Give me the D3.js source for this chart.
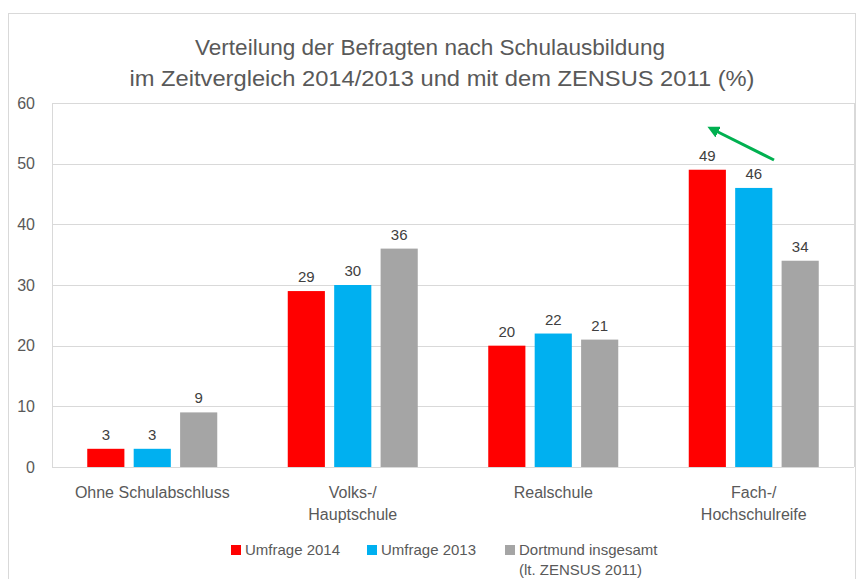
<!DOCTYPE html>
<html>
<head>
<meta charset="utf-8">
<script src="https://cdn.jsdelivr.net/npm/d3@7"></script>
<style>
  body { margin: 0; background: #fff; }
  text { font-family: "Liberation Sans", Arial, sans-serif; }
</style>
</head>
<body>
<div id="chart"></div>
<script>
var categories = ["Ohne Schulabschluss", "Volks-/\nHauptschule", "Realschule", "Fach-/\nHochschulreife"];
var series = ["Umfrage 2014", "Umfrage 2013", "Dortmund insgesamt\n(lt. ZENSUS 2011)"];
var umfrage2014 = [3, 29, 20, 49];
var umfrage2013 = [3, 30, 22, 46];
var zensus2011 = [9, 36, 21, 34];
var yTicks = [0, 10, 20, 30, 40, 50, 60];

var values = [umfrage2014, umfrage2013, zensus2011];
var colors = ["#FF0000", "#00B0F0", "#A5A5A5"];

var width = 861, height = 579;
var plotLeft = 52, plotRight = 854, plotTop = 103, plotBottom = 467;

var svg = d3.select("#chart").append("svg")
    .attr("width", width)
    .attr("height", height);

// outer chart border
svg.append("rect")
    .attr("x", 8.5).attr("y", 13.5)
    .attr("width", 847).attr("height", 620)
    .attr("fill", "none")
    .attr("stroke", "#d9d9d9");

var x0 = d3.scaleBand()
    .domain(d3.range(categories.length))
    .range([plotLeft, plotRight]);

var x1 = d3.scaleBand()
    .domain(d3.range(series.length))
    .range([0, 130])
    .paddingInner(0.2);

var y = d3.scaleLinear()
    .domain([0, 60])
    .range([plotBottom, plotTop]);

// gridlines
svg.append("g").selectAll("line")
    .data(yTicks)
    .enter().append("line")
    .attr("x1", plotLeft).attr("x2", plotRight)
    .attr("y1", function(d) { return Math.round(y(d)) + 0.5; })
    .attr("y2", function(d) { return Math.round(y(d)) + 0.5; })
    .attr("stroke", "#d9d9d9");

// plot box sides
svg.append("line")
    .attr("x1", plotLeft + 0.5).attr("x2", plotLeft + 0.5)
    .attr("y1", plotTop).attr("y2", plotBottom)
    .attr("stroke", "#d9d9d9");
svg.append("line")
    .attr("x1", plotRight + 0.5).attr("x2", plotRight + 0.5)
    .attr("y1", plotTop).attr("y2", plotBottom)
    .attr("stroke", "#d9d9d9");

// y axis labels
var yAxis = d3.axisLeft(y).tickValues(yTicks).tickSize(0).tickPadding(17);
var gy = svg.append("g")
    .attr("transform", "translate(" + plotLeft + ",0)")
    .call(yAxis);
gy.select(".domain").remove();
gy.selectAll("text")
    .attr("font-size", 16)
    .attr("fill", "#595959")
    .style("font-family", "Liberation Sans, sans-serif");

// bars
var groups = svg.append("g").selectAll("g")
    .data(categories)
    .enter().append("g")
    .attr("transform", function(d, i) {
      return "translate(" + (x0(i) + (x0.bandwidth() - 130) / 2) + ",0)";
    });

groups.selectAll("rect")
    .data(function(d, i) { return values.map(function(v, s) { return {s: s, v: v[i]}; }); })
    .enter().append("rect")
    .attr("x", function(d) { return x1(d.s); })
    .attr("y", function(d) { return y(d.v); })
    .attr("width", x1.bandwidth())
    .attr("height", function(d) { return y(0) - y(d.v); })
    .attr("fill", function(d) { return colors[d.s]; });

groups.selectAll("text.val")
    .data(function(d, i) { return values.map(function(v, s) { return {s: s, v: v[i]}; }); })
    .enter().append("text")
    .attr("class", "val")
    .attr("x", function(d) { return x1(d.s) + x1.bandwidth() / 2; })
    .attr("y", function(d) { return y(d.v) - 9; })
    .attr("text-anchor", "middle")
    .attr("font-size", 15)
    .attr("fill", "#404040")
    .text(function(d) { return d.v; });

// category labels
svg.append("g").selectAll("text")
    .data(categories)
    .enter().append("text")
    .attr("text-anchor", "middle")
    .attr("font-size", 16)
    .attr("fill", "#595959")
    .attr("transform", function(d, i) { return "translate(" + (x0(i) + x0.bandwidth() / 2) + ",498)"; })
    .each(function(d) {
      var t = d3.select(this);
      d.split("\n").forEach(function(line, k) {
        t.append("tspan").attr("x", 0).attr("dy", k ? 22 : 0).text(line);
      });
    });

// title
var title = ["Verteilung der Befragten nach Schulausbildung",
             "im Zeitvergleich 2014/2013 und mit dem ZENSUS 2011 (%)"];
var titleX = [430, 442], titleLen = [470, 625];
svg.append("g").selectAll("text")
    .data(title)
    .enter().append("text")
    .attr("x", function(d, i) { return titleX[i]; })
    .attr("y", function(d, i) { return 55 + i * 31; })
    .attr("text-anchor", "middle")
    .attr("font-size", 22)
    .attr("textLength", function(d, i) { return titleLen[i]; })
    .attr("lengthAdjust", "spacingAndGlyphs")
    .attr("fill", "#595959")
    .text(function(d) { return d; });

// legend
var legendX = [231, 367, 505];
var legend = svg.append("g").selectAll("g")
    .data(series)
    .enter().append("g")
    .attr("transform", function(d, i) { return "translate(" + legendX[i] + ",545)"; });
legend.append("rect")
    .attr("width", 10).attr("height", 10)
    .attr("fill", function(d, i) { return colors[i]; });
legend.append("text")
    .attr("x", 14)
    .attr("y", 10)
    .attr("font-size", 15)
    .attr("fill", "#595959")
    .each(function(d) {
      var t = d3.select(this);
      d.split("\n").forEach(function(line, k) {
        t.append("tspan").attr("x", 14).attr("dy", k ? 20 : 0).text(line);
      });
    });

// green arrow
var defs = svg.append("defs");
defs.append("marker")
    .attr("id", "head")
    .attr("viewBox", "0 0 10 10")
    .attr("refX", 2).attr("refY", 5)
    .attr("markerWidth", 4).attr("markerHeight", 4)
    .attr("orient", "auto")
  .append("path")
    .attr("d", "M0,0L10,5L0,10Z")
    .attr("fill", "#00B050");
svg.append("line")
    .attr("x1", 774).attr("y1", 160)
    .attr("x2", 716).attr("y2", 131)
    .attr("stroke", "#00B050")
    .attr("stroke-width", 3)
    .attr("marker-end", "url(#head)");
</script>
</body>
</html>
